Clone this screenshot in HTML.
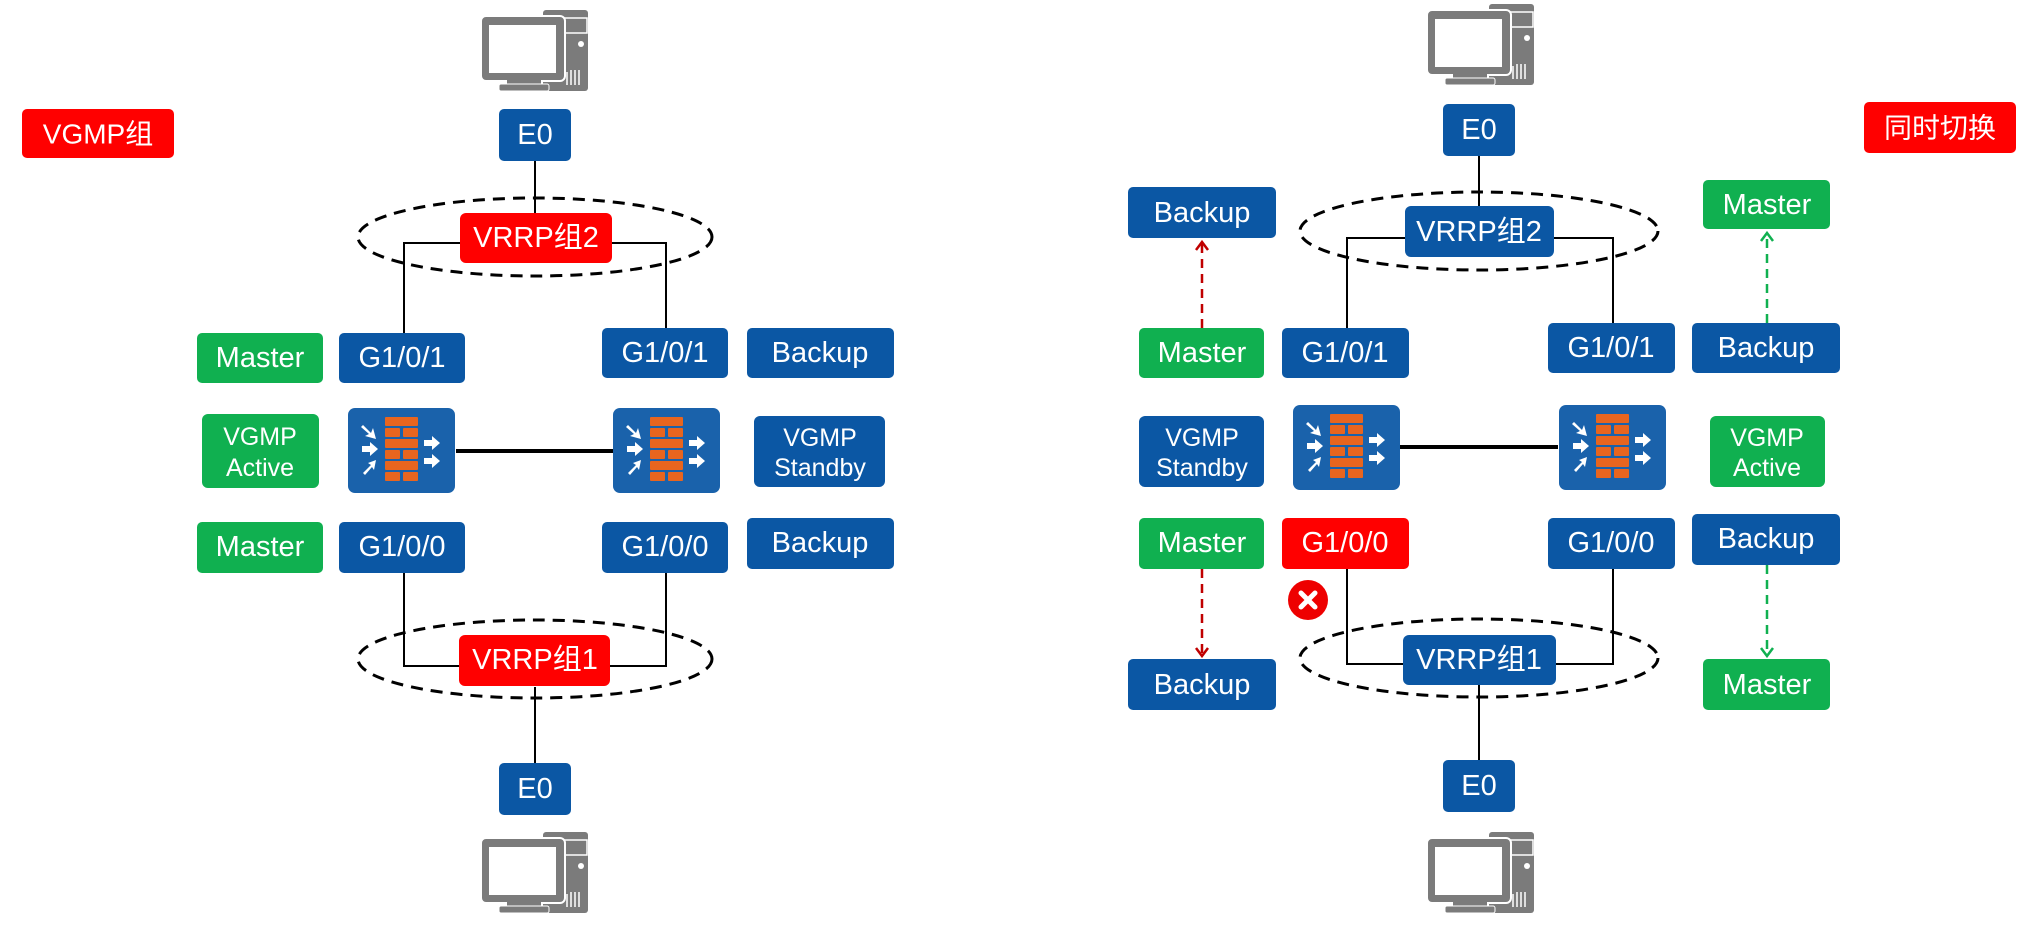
<!DOCTYPE html>
<html><head><meta charset="utf-8"><style>
html,body{margin:0;padding:0;background:#fff}
svg{display:block}
text{font-family:"Liberation Sans","Noto Sans CJK SC",sans-serif;fill:#fff;text-anchor:middle;dominant-baseline:central}
</style></head><body>
<svg width="2031" height="926" viewBox="0 0 2031 926" xmlns="http://www.w3.org/2000/svg">
<defs>
<g id="pc">
  <rect x="543" y="10" width="45" height="81" rx="3" fill="#7b7b7b"/>
  <rect x="562" y="18" width="25" height="15" fill="none" stroke="#fff" stroke-width="1.5"/>
  <circle cx="581" cy="44" r="3" fill="#fff"/>
  <g stroke="#fff" stroke-width="1.5"><line x1="567" y1="72" x2="567" y2="85"/><line x1="571" y1="70" x2="571" y2="85"/><line x1="575" y1="70" x2="575" y2="85"/><line x1="579" y1="70" x2="579" y2="85"/></g>
  <rect x="481" y="16" width="84" height="65" rx="5" fill="#7b7b7b" stroke="#fff" stroke-width="2"/>
  <rect x="489" y="25" width="67" height="48" fill="#fff"/>
  <rect x="507" y="80" width="34" height="6" fill="#7b7b7b"/>
  <rect x="499" y="84" width="50" height="7" rx="2" fill="#7b7b7b" stroke="#fff" stroke-width="1"/>
</g>
<g id="fw">
  <rect x="0" y="0" width="107" height="85" rx="7" fill="#1a62ab"/>
  <g fill="#e8651f">
    <rect x="37" y="9" width="33" height="9" rx="1"/>
    <rect x="37" y="20" width="15" height="9" rx="1"/><rect x="55" y="20" width="15" height="9" rx="1"/>
    <rect x="37" y="31" width="33" height="9" rx="1"/>
    <rect x="37" y="42" width="15" height="9" rx="1"/><rect x="55" y="42" width="15" height="9" rx="1"/>
    <rect x="37" y="53" width="33" height="9" rx="1"/>
    <rect x="37" y="64" width="15" height="9" rx="1"/><rect x="55" y="64" width="15" height="9" rx="1"/>
  </g>
  <g fill="#fff">
    <path d="M15 17 L23 25 L25 20 L28 31 L17 28 L21 26 L13 19Z"/>
    <path d="M14 38 L22 38 L22 34 L30 41 L22 48 L22 44 L14 44Z"/>
    <path d="M15 65 L23 57 L20 55 L28 52 L26 62 L24 59 L17 67Z"/>
    <path d="M76 32 L84 32 L84 28 L92 35 L84 42 L84 38 L76 38Z"/>
    <path d="M76 50 L84 50 L84 46 L92 53 L84 60 L84 56 L76 56Z"/>
  </g>
</g>
</defs>

<!-- LEFT -->
<use href="#pc" x="0" y="0"/>
<use href="#pc" x="0" y="822"/>
<rect x="22" y="109" width="152" height="49" rx="5" fill="#ff0000"/><text x="98" y="134" font-size="28">VGMP组</text>

<g stroke="#000" stroke-width="2" fill="none">
  <line x1="535" y1="158" x2="535" y2="213"/>
  <polyline points="460,243 404,243 404,333"/>
  <polyline points="612,243 666,243 666,328"/>
  <polyline points="404,573 404,666 459,666"/>
  <polyline points="610,666 666,666 666,573"/>
  <line x1="535" y1="687" x2="535" y2="763"/>
  <line x1="456" y1="451" x2="613" y2="451" stroke-width="4"/>
</g>
<ellipse cx="535" cy="237" rx="177" ry="39" fill="none" stroke="#000" stroke-width="3" stroke-dasharray="12,8"/>
<ellipse cx="535" cy="659" rx="177" ry="39" fill="none" stroke="#000" stroke-width="3" stroke-dasharray="12,8"/>

<rect x="499" y="109" width="72" height="52" rx="5" fill="#0b57a4"/><text x="535" y="135" font-size="29">E0</text>
<rect x="460" y="213" width="152" height="50" rx="6" fill="#ff0000"/><text x="536" y="238" font-size="29">VRRP组2</text>
<rect x="197" y="333" width="126" height="50" rx="5" fill="#10b050"/><text x="260" y="358" font-size="29">Master</text>
<rect x="339" y="333" width="126" height="50" rx="5" fill="#0b57a4"/><text x="402" y="358" font-size="29">G1/0/1</text>
<rect x="602" y="328" width="126" height="50" rx="5" fill="#0b57a4"/><text x="665" y="353" font-size="29">G1/0/1</text>
<rect x="747" y="328" width="147" height="50" rx="5" fill="#0b57a4"/><text x="820" y="353" font-size="29">Backup</text>
<rect x="202" y="414" width="117" height="74" rx="6" fill="#10b050"/><text x="260" y="437" font-size="25">VGMP</text><text x="260" y="468" font-size="25">Active</text>
<use href="#fw" x="348" y="408"/>
<use href="#fw" x="613" y="408"/>
<rect x="754" y="416" width="131" height="71" rx="6" fill="#0b57a4"/><text x="820" y="438" font-size="25">VGMP</text><text x="820" y="468" font-size="25">Standby</text>
<rect x="197" y="522" width="126" height="51" rx="5" fill="#10b050"/><text x="260" y="547" font-size="29">Master</text>
<rect x="339" y="522" width="126" height="51" rx="5" fill="#0b57a4"/><text x="402" y="547" font-size="29">G1/0/0</text>
<rect x="602" y="522" width="126" height="51" rx="5" fill="#0b57a4"/><text x="665" y="547" font-size="29">G1/0/0</text>
<rect x="747" y="518" width="147" height="51" rx="5" fill="#0b57a4"/><text x="820" y="543" font-size="29">Backup</text>
<rect x="459" y="635" width="151" height="51" rx="6" fill="#ff0000"/><text x="535" y="660" font-size="29">VRRP组1</text>
<rect x="499" y="763" width="72" height="52" rx="5" fill="#0b57a4"/><text x="535" y="789" font-size="29">E0</text>

<!-- RIGHT -->
<use href="#pc" x="946" y="-6"/>
<use href="#pc" x="946" y="822"/>
<rect x="1864" y="102" width="152" height="51" rx="5" fill="#ff0000"/><text x="1940" y="128" font-size="28">同时切换</text>

<g stroke="#000" stroke-width="2" fill="none">
  <line x1="1479" y1="155" x2="1479" y2="207"/>
  <polyline points="1405,238 1347,238 1347,328"/>
  <polyline points="1554,238 1613,238 1613,323"/>
  <polyline points="1347,569 1347,664 1403,664"/>
  <polyline points="1556,664 1613,664 1613,569"/>
  <line x1="1479" y1="685" x2="1479" y2="760"/>
  <line x1="1400" y1="447" x2="1558" y2="447" stroke-width="4"/>
</g>
<ellipse cx="1479" cy="231" rx="179" ry="39" fill="none" stroke="#000" stroke-width="3" stroke-dasharray="12,8"/>
<ellipse cx="1479" cy="658" rx="179" ry="39" fill="none" stroke="#000" stroke-width="3" stroke-dasharray="12,8"/>

<g stroke-width="2.5" fill="none" stroke-dasharray="9,6">
  <line x1="1202" y1="328" x2="1202" y2="242" stroke="#c00000"/>
  <line x1="1202" y1="569" x2="1202" y2="655" stroke="#c00000"/>
  <line x1="1767" y1="323" x2="1767" y2="233" stroke="#10b050"/>
  <line x1="1767" y1="565" x2="1767" y2="655" stroke="#10b050"/>
</g>
<g stroke-width="2.5" fill="none">
  <polyline points="1196,250 1202,242 1208,250" stroke="#c00000"/>
  <polyline points="1196,648 1202,656 1208,648" stroke="#c00000"/>
  <polyline points="1761,241 1767,233 1773,241" stroke="#10b050"/>
  <polyline points="1761,648 1767,656 1773,648" stroke="#10b050"/>
</g>

<rect x="1443" y="104" width="72" height="52" rx="5" fill="#0b57a4"/><text x="1479" y="130" font-size="29">E0</text>
<rect x="1405" y="206" width="149" height="51" rx="6" fill="#0b57a4"/><text x="1479" y="232" font-size="29">VRRP组2</text>
<rect x="1128" y="187" width="148" height="51" rx="5" fill="#0b57a4"/><text x="1202" y="213" font-size="29">Backup</text>
<rect x="1139" y="328" width="125" height="50" rx="5" fill="#10b050"/><text x="1202" y="353" font-size="29">Master</text>
<rect x="1282" y="328" width="127" height="50" rx="5" fill="#0b57a4"/><text x="1345" y="353" font-size="29">G1/0/1</text>
<rect x="1548" y="323" width="127" height="50" rx="5" fill="#0b57a4"/><text x="1611" y="348" font-size="29">G1/0/1</text>
<rect x="1692" y="323" width="148" height="50" rx="5" fill="#0b57a4"/><text x="1766" y="348" font-size="29">Backup</text>
<rect x="1703" y="180" width="127" height="49" rx="5" fill="#10b050"/><text x="1767" y="205" font-size="29">Master</text>
<rect x="1139" y="416" width="125" height="71" rx="6" fill="#0b57a4"/><text x="1202" y="438" font-size="25">VGMP</text><text x="1202" y="468" font-size="25">Standby</text>
<use href="#fw" x="1293" y="405"/>
<use href="#fw" x="1559" y="405"/>
<rect x="1710" y="416" width="115" height="71" rx="6" fill="#10b050"/><text x="1767" y="438" font-size="25">VGMP</text><text x="1767" y="468" font-size="25">Active</text>
<rect x="1139" y="518" width="125" height="51" rx="5" fill="#10b050"/><text x="1202" y="543" font-size="29">Master</text>
<rect x="1282" y="518" width="127" height="51" rx="5" fill="#ff0000"/><text x="1345" y="543" font-size="29">G1/0/0</text>
<rect x="1548" y="518" width="127" height="51" rx="5" fill="#0b57a4"/><text x="1611" y="543" font-size="29">G1/0/0</text>
<rect x="1692" y="514" width="148" height="51" rx="5" fill="#0b57a4"/><text x="1766" y="539" font-size="29">Backup</text>
<circle cx="1308" cy="600" r="20" fill="#ee0000"/>
<g stroke="#fff" stroke-width="5" stroke-linecap="round"><line x1="1301" y1="593" x2="1315" y2="607"/><line x1="1315" y1="593" x2="1301" y2="607"/></g>
<rect x="1128" y="659" width="148" height="51" rx="5" fill="#0b57a4"/><text x="1202" y="685" font-size="29">Backup</text>
<rect x="1703" y="659" width="127" height="51" rx="5" fill="#10b050"/><text x="1767" y="685" font-size="29">Master</text>
<rect x="1403" y="635" width="153" height="50" rx="6" fill="#0b57a4"/><text x="1479" y="660" font-size="29">VRRP组1</text>
<rect x="1443" y="760" width="72" height="52" rx="5" fill="#0b57a4"/><text x="1479" y="786" font-size="29">E0</text>
</svg>
</body></html>
